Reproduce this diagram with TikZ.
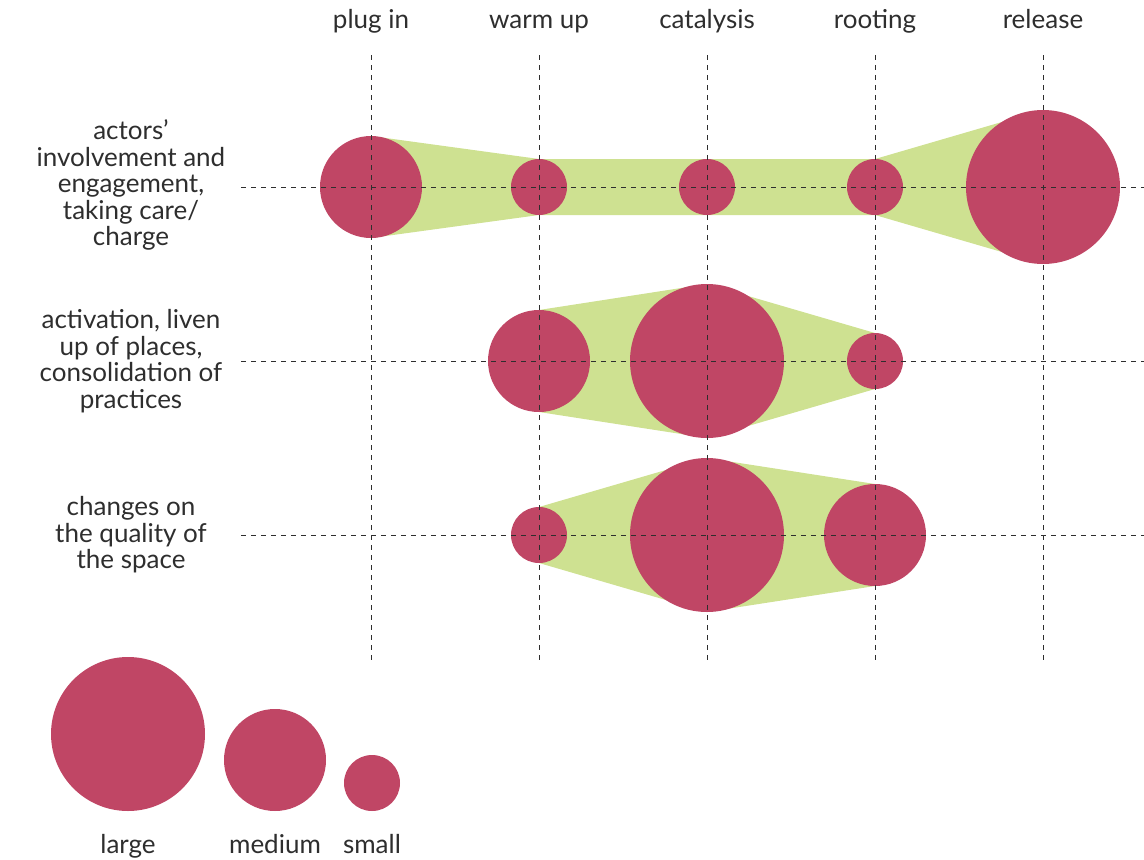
\documentclass[tikz,border=0pt]{standalone}
\usepackage{fontspec}
\setmainfont{Lato}
\usetikzlibrary{positioning,backgrounds}
\definecolor{berry}{HTML}{C04665}
\definecolor{lime}{HTML}{CEE191}
\definecolor{ink}{HTML}{2E2E2E}
\tikzset{
  dot/.style={circle, fill=berry, inner sep=0pt, outer sep=0pt},
  bigdot/.style={dot, minimum size=154pt},
  middot/.style={dot, minimum size=102pt},
  smalldot/.style={dot, minimum size=56pt},
  guide/.style={ink, line width=0.9pt, dash pattern=on 5pt off 5pt},
  txt/.style={text=ink, font=\fontsize{26}{26.5}\selectfont, align=center, inner sep=0pt}
}

\begin{document}
\begin{tikzpicture}[x=1pt,y=-1pt]
  \useasboundingbox (0,0) rectangle (1144,860);
  % phases
  \foreach \x/\t in {371/plug in,539/warm up,707/catalysis,875/rooting,1043/release}
    \node[txt, anchor=base] (h\x) at (\x,28) {\t};
  % dimensions
  \node[txt] (r1) at (131,185) {actors'\\involvement and\\engagement,\\taking care/\\charge};
  \node[txt] (r2) at (131,361) {activation, liven\\up of places,\\consolidation of\\practices};
  \node[txt] (r3) at (131,535) {changes on\\the quality of\\the space};

  % row 1
  \node[middot]   (a1) at (371,187) {};
  \node[smalldot] (b1) at (539,187) {};
  \node[smalldot] (c1) at (707,187) {};
  \node[smalldot] (d1) at (875,187) {};
  \node[bigdot]   (e1) at (1043,187) {};
  % row 2
  \node[middot]   (b2) at (539,361) {};
  \node[bigdot]   (c2) at (707,361) {};
  \node[smalldot] (d2) at (875,361) {};
  % row 3
  \node[smalldot] (b3) at (539,535) {};
  \node[bigdot]   (c3) at (707,535) {};
  \node[middot]   (d3) at (875,535) {};

  \begin{scope}[on background layer]
    \fill[lime] (a1.north) -- (b1.north) -- (c1.north) -- (d1.north) -- (e1.north)
      -- (e1.south) -- (d1.south) -- (c1.south) -- (b1.south) -- (a1.south) -- cycle;
    \fill[lime] (b2.north) -- (c2.north) -- (d2.north)
      -- (d2.south) -- (c2.south) -- (b2.south) -- cycle;
    \fill[lime] (b3.north) -- (c3.north) -- (d3.north)
      -- (d3.south) -- (c3.south) -- (b3.south) -- cycle;
  \end{scope}

  % guides
  \foreach \x in {371,539,707,875,1043}
    \draw[guide] (\x,55) -- (\x,663);
  \foreach \y in {187,361,535}
    \draw[guide] (241,\y) -- (1144,\y);

  % legend
  \node[bigdot]   (lg) at (128,734) {};
  \node[middot]   (md) at (275,760) {};
  \node[smalldot] (sm) at (372,783) {};
  \node[txt, anchor=base] (lgt) at (128,853) {large};
  \node[txt, anchor=base] (mdt) at (275,853) {medium};
  \node[txt, anchor=base] (smt) at (372,853) {small};
\end{tikzpicture}
\end{document}
